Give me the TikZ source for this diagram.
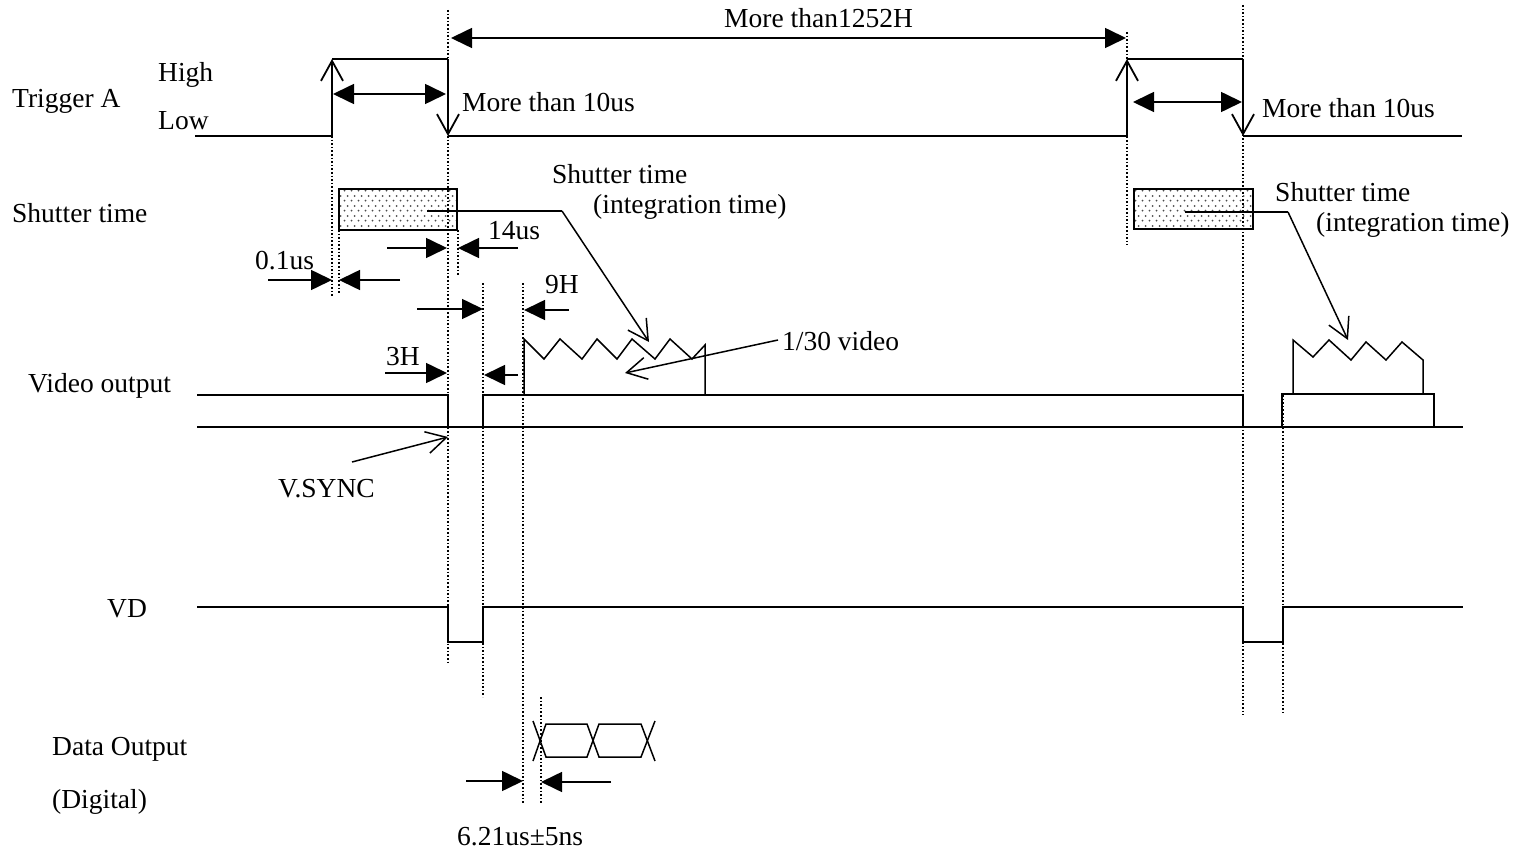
\documentclass[tikz,border=0pt]{standalone}
\usepackage{fontspec}
\setmainfont{Liberation Serif}
\usetikzlibrary{arrows.meta,patterns}
\newcommand\lblfont{\fontsize{27.5}{30}\selectfont}
\pgfdeclarepatternformonly{shutterdots}{\pgfpointorigin}{\pgfpoint{7pt}{10pt}}{\pgfpoint{7pt}{10pt}}{%
  \pgfpathcircle{\pgfpoint{1.75pt}{2.5pt}}{1.1pt}%
  \pgfpathcircle{\pgfpoint{5.25pt}{7.5pt}}{1.1pt}%
  \pgfusepath{fill}}
\begin{document}
\begin{tikzpicture}[x=1pt,y=-1pt,
  sig/.style={line width=1.8pt,line join=miter},
  vguide/.style={line width=1.4pt,dash pattern=on 1.6pt off 2pt},
  lead/.style={line width=1.5pt},
  fa/.style={line width=1.6pt,-{Triangle[length=21pt,width=20pt]}},
  fda/.style={line width=1.6pt,{Triangle[length=21pt,width=20pt]}-{Triangle[length=21pt,width=20pt]}},
  oa/.style={line width=1.5pt,-{Straight Barb[length=20pt,width=22pt]}},
  lbl/.style={inner sep=0pt,anchor=base west,font=\lblfont},
  shut/.style={draw,line width=1.8pt,pattern=shutterdots,pattern color=gray!60!black}]
\useasboundingbox (0,0) rectangle (1519,853);

% ---------- labels ----------
\node[lbl] (trigA) at (12,108) {Trigger A};
\node[lbl] (high) at (158,82) {High};
\node[lbl] (low) at (158,130) {Low};
\node[lbl] (shutL) at (12,223) {Shutter time};
\node[lbl] (vidL) at (28,392) {Video output};
\node[lbl] (vdL) at (107,617) {VD};
\node[lbl] (dataL) at (52,755) {Data Output};
\node[lbl] (digL) at (52,808) {(Digital)};

% ---------- guide lines ----------
\draw[vguide] (448,10) -- (448,663);
\draw[vguide] (332,136) -- (332,297);
\draw[vguide] (339,230) -- (339,293);
\draw[vguide] (458,230) -- (458,275);
\draw[vguide] (483,283) -- (483,697);
\draw[vguide] (523,283) -- (523,804);
\draw[vguide] (541,697) -- (541,804);
\draw[vguide] (1127,32) -- (1127,245);
\draw[vguide] (1243,5) -- (1243,715);
\draw[vguide] (1283,395) -- (1283,715);

% ---------- Trigger A ----------
\coordinate (tA0) at (195,136);
\coordinate (tR1b) at (332,136);
\coordinate (tR1t) at (332,59);
\coordinate (tF1t) at (448,59);
\coordinate (tF1b) at (448,136);
\coordinate (tR2b) at (1127,136);
\coordinate (tR2t) at (1127,59);
\coordinate (tF2t) at (1243,59);
\coordinate (tF2b) at (1243,136);
\coordinate (tAend) at (1462,136);
\draw[sig] (tA0) -- (tR1b);
\draw[oa,line width=1.8pt] (tR1b) -- (tR1t);
\draw[sig] (tR1t) -- (tF1t);
\draw[oa,line width=1.8pt] (tF1t) -- (tF1b);
\draw[sig] (tF1b) -- (tR2b);
\draw[oa,line width=1.8pt] (tR2b) -- (tR2t);
\draw[sig] (tR2t) -- (tF2t);
\draw[oa,line width=1.8pt] (tF2t) -- (tF2b);
\draw[sig] (tF2b) -- (tAend);

\coordinate (w1a) at (333,94);
\coordinate (w1b) at (446,94);
\draw[fda] (w1a) -- (w1b);
\node[lbl] (m10a) at (462,112) {More than 10us};
\coordinate (w2a) at (1133,102);
\coordinate (w2b) at (1242,102);
\draw[fda] (w2a) -- (w2b);
\node[lbl] (m10b) at (1262,118) {More than 10us};

\coordinate (pa) at (451,38);
\coordinate (pb) at (1126,38);
\draw[fda] (pa) -- (pb);
\node[lbl] (m1252) at (724,28) {More than1252H};

% ---------- Shutter ----------
\draw[shut] (339,189) rectangle (457,230);
\draw[shut] (1134,189) rectangle (1253,229);
\coordinate (s1a) at (427,211);
\coordinate (s1b) at (562,211);
\coordinate (s1c) at (649,342);
\draw[lead] (s1a) -- (s1b);
\draw[oa] (s1b) -- (s1c);
\node[lbl] (st1) at (552,184) {Shutter time};
\node[lbl] (it1) at (593,214) {(integration time)};
\coordinate (s2a) at (1185,212);
\coordinate (s2b) at (1288,212);
\coordinate (s2c) at (1348,340);
\draw[lead] (s2a) -- (s2b);
\draw[oa] (s2b) -- (s2c);
\node[lbl] (st2) at (1275,202) {Shutter time};
\node[lbl] (it2) at (1316,232) {(integration time)};

% 14us
\coordinate (a14a) at (387,248); \coordinate (a14b) at (447,248);
\coordinate (a14c) at (518,248); \coordinate (a14d) at (458,248);
\draw[fa] (a14a) -- (a14b);
\draw[fa] (a14c) -- (a14d);
\node[lbl] (t14) at (488,240) {14us};
% 0.1us
\coordinate (a01a) at (268,280); \coordinate (a01b) at (332,280);
\coordinate (a01c) at (400,280); \coordinate (a01d) at (339,280);
\draw[fa] (a01a) -- (a01b);
\draw[fa] (a01c) -- (a01d);
\node[lbl] (t01) at (255,270) {0.1us};
% 9H
\coordinate (a9a) at (417,309); \coordinate (a9b) at (483,309);
\coordinate (a9c) at (569,310); \coordinate (a9d) at (524,310);
\draw[fa] (a9a) -- (a9b);
\draw[fa] (a9c) -- (a9d);
\node[lbl] (t9) at (545,294) {9H};
% 3H
\coordinate (a3a) at (385,373); \coordinate (a3b) at (447,373);
\coordinate (a3c) at (518,375); \coordinate (a3d) at (484,375);
\draw[fa] (a3a) -- (a3b);
\draw[fa] (a3c) -- (a3d);
\node[lbl] (t3) at (386,365) {3H};

% ---------- Video output ----------
\draw[sig] (197,395) -- (448,395) -- (448,427);
\draw[sig] (483,427) -- (483,395) -- (1243,395) -- (1243,427);
\draw[sig] (1282,427) -- (1282,394) -- (1434,394) -- (1434,427);
\draw[sig] (197,427) -- (1463,427);
\draw[lead] (524,395) -- (524,339) -- (544,359) -- (560,339) -- (582,359) -- (597,339)
  -- (617,359) -- (632,339) -- (655,359) -- (670,339) -- (692,359) -- (705,345) -- (705,395);
\draw[lead] (1293,394) -- (1293,340) -- (1313,357) -- (1329,340) -- (1351,360) -- (1366,342)
  -- (1386,360) -- (1402,342) -- (1423,360) -- (1423,394);
\coordinate (v30a) at (778,340); \coordinate (v30b) at (625,373);
\draw[oa] (v30a) -- (v30b);
\node[lbl] (t30) at (782,350) {1/30 video};
\coordinate (vsa) at (352,462); \coordinate (vsb) at (448,437);
\draw[oa] (vsa) -- (vsb);
\node[lbl] (tvs) at (278,497) {V.SYNC};

% ---------- VD ----------
\draw[sig] (197,607) -- (448,607) -- (448,642) -- (483,642) -- (483,607) -- (1243,607)
  -- (1243,642) -- (1283,642) -- (1283,607) -- (1463,607);

% ---------- Data output ----------
\draw[lead] (533,721) -- (546,757) -- (587,757) -- (599,724) -- (641,724) -- (655,761);
\draw[lead] (533,761) -- (546,724) -- (587,724) -- (599,757) -- (641,757) -- (655,721);
\coordinate (d6a) at (466,781); \coordinate (d6b) at (523,781);
\coordinate (d6c) at (611,782); \coordinate (d6d) at (541,782);
\draw[fa] (d6a) -- (d6b);
\draw[fa] (d6c) -- (d6d);
\node[lbl] (t621) at (457,845) {6.21us±5ns};
\end{tikzpicture}
\end{document}
